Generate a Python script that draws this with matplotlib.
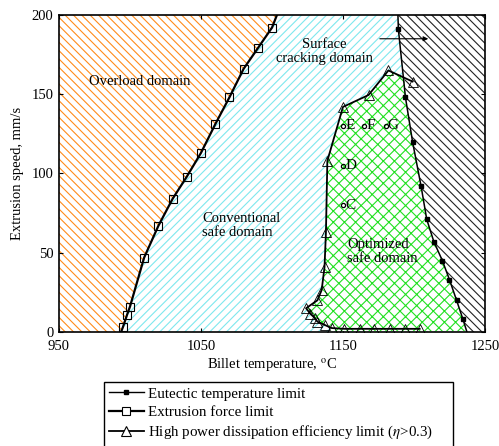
import matplotlib.pyplot as plt
from matplotlib.patches import Polygon

plt.rcParams['font.family'] = ['Liberation Serif', 'DejaVu Serif']
plt.rcParams['mathtext.fontset'] = 'stix'
plt.rcParams['hatch.linewidth'] = 0.8

# extrusion force limit (open squares)
force_T = [995, 998, 1000, 1010, 1020, 1030, 1040, 1050, 1060, 1070, 1080, 1090, 1100]
force_v = [3, 11, 16, 47, 67, 84, 98, 113, 131, 148, 166, 179, 192]

# eutectic temperature limit (small filled squares)
eut_T = [1189, 1194, 1199, 1205, 1209, 1214, 1220, 1225, 1230, 1234.5]
eut_v = [191, 148, 120, 92, 71, 57, 45, 33, 20, 8]

# high power dissipation efficiency limit, eta > 0.3 (open triangles)
eta_T = [1204, 1194, 1183, 1172, 1162, 1151, 1142, 1137, 1132, 1130, 1127, 1124,
         1132, 1135, 1137, 1138, 1139, 1150, 1168, 1182, 1199]
eta_v = [2, 2, 2, 2, 2, 2, 2.5, 4.5, 6.5, 9, 11.5, 15,
         20, 26.5, 41, 63, 108, 142, 149.5, 165, 158]

# process points
pt_names = ['C', 'D', 'E', 'F', 'G']
pt_T = [1150, 1150, 1150, 1165, 1180]
pt_v = [80, 105, 130, 130, 130]

fig = plt.figure(figsize=(4.99, 4.46), dpi=100)
ax = fig.add_axes([0.1182, 0.2556, 0.8537, 0.7108])
ax.set_xlim(950, 1250)
ax.set_ylim(0, 200)

# full boundaries of the two limits, extended to the axes edges
f_T = [993.7] + force_T + [1103.5]
f_v = [0] + force_v + [200]
e_T = [1188.7] + eut_T + [1237.3]
e_v = [200] + eut_v + [0]

# overload domain
ax.add_patch(Polygon([(950, 0), (950, 200)] + list(zip(f_T, f_v))[::-1],
                     closed=True, facecolor='white', edgecolor='#ff8c1a',
                     hatch='\\\\\\\\', lw=0, zorder=1))
# conventional safe domain
ax.add_patch(Polygon(list(zip(f_T, f_v)) + list(zip(e_T, e_v)),
                     closed=True, facecolor='white', edgecolor='#7fe8ee',
                     hatch='////', lw=0, zorder=1))
# eutectic / hot shortness side
ax.add_patch(Polygon(list(zip(e_T, e_v)) + [(1250, 0), (1250, 200)],
                     closed=True, facecolor='white', edgecolor='#222222',
                     hatch='\\\\\\\\', lw=0, zorder=1))

# optimized safe domain: eta boundary on the left, eutectic line on the right
green = [(1237.3, 0.5), (1142, 0.5)] + list(zip(eta_T[6:-1], eta_v[6:-1])) + [(1193.3, 160)]
green += [(t, v) for t, v in zip(eut_T, eut_v) if v < 160] + [(1237.3, 0.5)]
ax.add_patch(Polygon(green, closed=True, facecolor='white', edgecolor='#22e022',
                     hatch='xxx', lw=0, zorder=2))

ax.plot(f_T, f_v, color='black', lw=1.6, zorder=4)
ax.plot(force_T, force_v, ls='none', marker='s', ms=5.5, mfc='none', mec='black',
        mew=0.8, zorder=5)
ax.plot(e_T, e_v, color='black', lw=1.1, zorder=4)
ax.plot(eut_T, eut_v, ls='none', marker='s', ms=3, color='black', zorder=5)
ax.plot(eta_T, eta_v, color='black', lw=1.3, zorder=4)
ax.plot(eta_T, eta_v, ls='none', marker='^', ms=6.5, mfc='none', mec='black',
        mew=0.6, zorder=5)

# legend handles
ax.plot([], [], color='black', lw=1, marker='s', ms=3, label='Eutectic temperature limit')
ax.plot([], [], color='black', lw=1.6, marker='s', ms=5.5, mfc='white', mew=0.8,
        label='Extrusion force limit')
ax.plot([], [], color='black', lw=1.3, marker='^', ms=6.5, mfc='white', mew=0.8,
        label=r'High power dissipation efficiency limit ($\eta$>0.3)')

for name, t, v in zip(pt_names, pt_T, pt_v):
    ax.plot(t, v, marker='o', ms=3, mfc='none', mec='black', mew=0.9, zorder=6)
    ax.text(t + 1.5, v, name, fontsize=11, va='center', ha='left', zorder=6)

ax.text(1007, 158, 'Overload domain', fontsize=10.5, ha='center', va='center')
ax.text(1137, 177, 'Surface\ncracking domain', fontsize=10.5, ha='center', va='center',
        linespacing=1.1)
ax.text(1051, 67.5, 'Conventional\nsafe domain', fontsize=10.5, ha='left', va='center',
        linespacing=1.1)
ax.text(1153, 51, 'Optimized\nsafe domain', fontsize=10.5, ha='left', va='center',
        linespacing=1.1)

ax.annotate('', xy=(1212, 185), xytext=(1174, 185),
            arrowprops=dict(arrowstyle='-|>', color='black', lw=0.8,
                            mutation_scale=7), zorder=6)

ax.set_xticks([950, 1050, 1150, 1250])
ax.set_yticks([0, 50, 100, 150, 200])
ax.tick_params(direction='in', length=3, width=0.8, top=True, right=True,
               labelsize=10.5)
ax.tick_params(axis='x', pad=6)
ax.tick_params(axis='y', pad=4)
for s in ax.spines.values():
    s.set_linewidth(1.2)
ax.set_xlabel(r'Billet temperature, $^\mathrm{o}$C', fontsize=10.5, labelpad=2)
ax.set_ylabel('Extrusion speed, mm/s', fontsize=10.5, labelpad=5)

fig.legend(loc='upper left', bbox_to_anchor=(0.2084, 0.0, 0.699, 0.1435),
           mode='expand', borderaxespad=0, fontsize=10.8, frameon=True,
           fancybox=False, edgecolor='black', framealpha=1, handlelength=2.3,
           handletextpad=0.3, borderpad=0.35, labelspacing=0.33)

fig.savefig('out.png', dpi=100)
